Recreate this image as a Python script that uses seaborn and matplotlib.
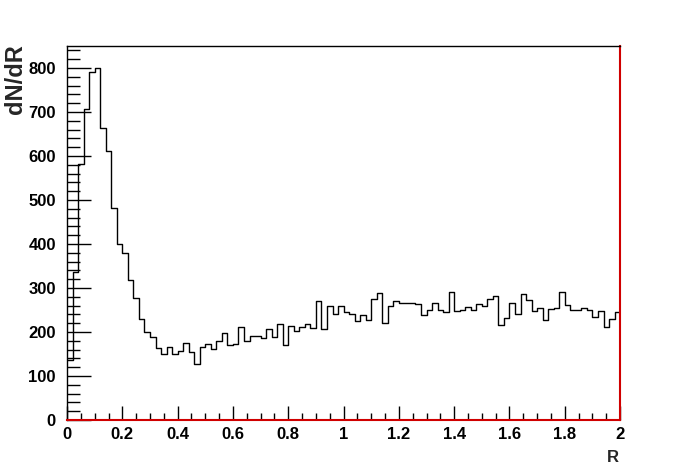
import numpy as np
import pandas as pd
import seaborn as sns
import matplotlib.pyplot as plt
from matplotlib.ticker import MultipleLocator

# bin contents, 100 bins over R in [0, 2]
counts = [136, 336, 581, 706, 790, 800, 663, 612, 482, 400,
          379, 318, 277, 230, 199, 188, 164, 149, 167, 149,
          156, 174, 154, 127, 167, 172, 161, 179, 198, 170,
          172, 211, 179, 192, 192, 186, 206, 189, 218, 170,
          213, 202, 211, 218, 209, 270, 206, 259, 242, 258,
          246, 242, 224, 238, 227, 274, 288, 220, 259, 270,
          267, 267, 267, 264, 238, 250, 265, 249, 245, 290,
          247, 249, 256, 249, 263, 258, 274, 281, 215, 231,
          265, 241, 286, 273, 247, 254, 227, 252, 254, 292,
          261, 249, 249, 254, 249, 234, 247, 211, 230, 245]
n_bins = 100
r_lo, r_hi = 0.0, 2.0
centers = r_lo + (np.arange(n_bins) + 0.5) * (r_hi - r_lo) / n_bins

df = pd.DataFrame({'R': centers, 'n': counts})

sns.set_style('white')
plt.rcParams['font.family'] = ['Liberation Sans', 'DejaVu Sans']

fig = plt.figure(figsize=(6.89, 4.67), dpi=100)
ax = fig.add_axes([0.0973, 0.1006, 0.8027, 0.8009])

sns.histplot(data=df, x='R', weights='n', bins=n_bins, binrange=(r_lo, r_hi),
             element='step', fill=False, color='black', linewidth=1.0, ax=ax)

ax.set_xlim(0, 2)
ax.set_ylim(0, 850)

ax.xaxis.set_major_locator(MultipleLocator(0.2))
ax.xaxis.set_minor_locator(MultipleLocator(0.05))
ax.yaxis.set_major_locator(MultipleLocator(100))
ax.yaxis.set_minor_locator(MultipleLocator(20))
ax.set_xticks(np.arange(0, 2.01, 0.2))
ax.set_xticklabels(['0', '0.2', '0.4', '0.6', '0.8', '1', '1.2', '1.4', '1.6', '1.8', '2'])

ax.tick_params(axis='both', which='both', direction='in', bottom=True, left=True,
               top=False, right=False, labelsize=12, colors='black', width=1)
ax.tick_params(axis='x', which='major', length=10, pad=5)
ax.tick_params(axis='x', which='minor', length=5)
ax.tick_params(axis='y', which='major', length=17, pad=8)
ax.tick_params(axis='y', which='minor', length=9)
for lab in ax.get_xticklabels() + ax.get_yticklabels():
    lab.set_fontweight('bold')

for side in ['top', 'left']:
    ax.spines[side].set_color('black')
    ax.spines[side].set_linewidth(1.0)
for side in ['bottom', 'right']:
    ax.spines[side].set_color('#d00000')
    ax.spines[side].set_linewidth(1.5)

ax.set_xlabel('')
ax.set_ylabel('')
fig.text(0.023, 0.905, 'dN/dR', rotation=90, ha='center', va='top',
         fontsize=17, fontweight='bold')
fig.text(0.89, 0.021, 'R', ha='center', va='center', fontsize=12, fontweight='bold')

fig.savefig('out.png', dpi=100)
